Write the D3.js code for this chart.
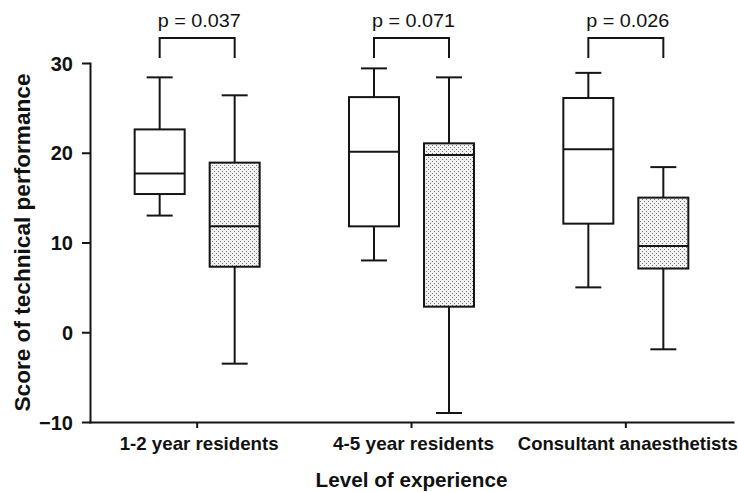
<!DOCTYPE html>
<html>
<head>
<meta charset="utf-8">
<title>Score of technical performance</title>
<script src="https://d3js.org/d3.v7.min.js"></script>
<style>
  body { margin: 0; background: #fff; }
  svg { display: block; font-family: "Liberation Sans", Arial, sans-serif; }
</style>
</head>
<body>
<svg id="box-chart" width="738" height="492"></svg>
<script>

  // categories along the x-axis
  let categories = ["1-2 year residents", "4-5 year residents", "Consultant anaesthetists"];
  // two series per category: open box and dotted box
  let series = ["open", "dotted"];

  // open boxes
  let openMin    = [13.0, 8.0, 5.0];
  let openQ1     = [15.4, 11.8, 12.1];
  let openMedian = [17.7, 20.1, 20.4];
  let openQ3     = [22.6, 26.2, 26.1];
  let openMax    = [28.4, 29.4, 28.9];

  // dotted boxes
  let dottedMin    = [-3.5, -9.0, -1.9];
  let dottedQ1     = [7.3, 2.85, 7.1];
  let dottedMedian = [11.8, 19.75, 9.6];
  let dottedQ3     = [18.9, 21.05, 15.0];
  let dottedMax    = [26.4, 28.4, 18.4];

  let pValues = ["p = 0.037", "p = 0.071", "p = 0.026"];
  let yTicks = [-10, 0, 10, 20, 30];

  // build rows for d3
  let rows = [];
  categories.forEach(function(cat, i) {
    rows.push({cat: cat, series: "open", min: openMin[i], q1: openQ1[i], median: openMedian[i], q3: openQ3[i], max: openMax[i]});
    rows.push({cat: cat, series: "dotted", min: dottedMin[i], q1: dottedQ1[i], median: dottedMedian[i], q3: dottedQ3[i], max: dottedMax[i]});
  });

  let svg = d3.select("#box-chart");
  let ink = "#151515";

  let margin = {top: 63, right: 5, bottom: 70, left: 90};
  let plotWidth = 738 - margin.left - margin.right;
  let plotHeight = 492 - margin.top - margin.bottom;

  // dotted fill
  let defs = svg.append("defs");
  let pat = defs.append("pattern")
    .attr("id", "dots")
    .attr("patternUnits", "userSpaceOnUse")
    .attr("width", 4).attr("height", 4);
  pat.append("rect").attr("width", 4).attr("height", 4).attr("fill", "#f1f1f1");
  pat.append("rect").attr("x", 0).attr("y", 0).attr("width", 1).attr("height", 1).attr("fill", "#7a7a7a");
  pat.append("rect").attr("x", 2).attr("y", 2).attr("width", 1).attr("height", 1).attr("fill", "#7a7a7a");

  let xScale = d3.scaleBand()
    .domain(categories)
    .range([0, plotWidth]);

  let subScale = d3.scaleBand()
    .domain(series)
    .range([-75, 75]);

  let yScale = d3.scaleLinear()
    .domain([-10, 30])
    .range([plotHeight, 0]);

  let boxWidth = subScale.bandwidth() * 2 / 3;
  let capWidth = 26;

  let plot = svg.append("g").attr("transform", translate(margin.left, margin.top));

  function center(d) {
    return xScale(d.cat) + xScale.bandwidth() / 2 + subScale(d.series) + subScale.bandwidth() / 2;
  }

  // axes
  let xAxis = d3.axisBottom(xScale).tickSizeInner(6).tickSizeOuter(0).tickFormat("");
  let yAxis = d3.axisLeft(yScale).tickValues(yTicks).tickSizeInner(8).tickSizeOuter(0).tickPadding(9);

  let xGroup = plot.append("g").attr("transform", translate(0, plotHeight)).call(xAxis);
  let yGroup = plot.append("g").call(yAxis);

  [xGroup, yGroup].forEach(function(g) {
    g.selectAll("path, line").attr("stroke", ink).attr("stroke-width", 2);
    g.select(".domain").attr("stroke-linecap", "square");
  });

  yGroup.selectAll("text")
    .attr("fill", "#111")
    .attr("dy", "0.36em")
    .style("font-size", "20px")
    .style("font-weight", "bold");

  // category labels
  let labelWidths = [159, 161, 220];
  plot.selectAll(".cat-label")
    .data(categories)
    .enter().append("text")
    .attr("class", "cat-label")
    .attr("x", d => xScale(d) + xScale.bandwidth() / 2 + 2)
    .attr("y", plotHeight + 28)
    .attr("text-anchor", "middle")
    .attr("fill", "#111")
    .style("font-size", "18.5px")
    .style("font-weight", "bold")
    .attr("textLength", (d, i) => labelWidths[i])
    .attr("lengthAdjust", "spacingAndGlyphs")
    .text(d => d);

  // boxes
  let boxes = plot.selectAll(".box")
    .data(rows)
    .enter().append("g")
    .attr("class", "box");

  // whisker stems
  boxes.append("line")
    .attr("x1", center).attr("x2", center)
    .attr("y1", d => yScale(d.max)).attr("y2", d => yScale(d.q3));
  boxes.append("line")
    .attr("x1", center).attr("x2", center)
    .attr("y1", d => yScale(d.q1)).attr("y2", d => yScale(d.min));
  // caps
  boxes.append("line")
    .attr("x1", d => center(d) - capWidth / 2).attr("x2", d => center(d) + capWidth / 2)
    .attr("y1", d => yScale(d.max)).attr("y2", d => yScale(d.max));
  boxes.append("line")
    .attr("x1", d => center(d) - capWidth / 2).attr("x2", d => center(d) + capWidth / 2)
    .attr("y1", d => yScale(d.min)).attr("y2", d => yScale(d.min));
  // box
  boxes.append("rect")
    .attr("x", d => center(d) - boxWidth / 2)
    .attr("width", boxWidth)
    .attr("y", d => yScale(d.q3))
    .attr("height", d => yScale(d.q1) - yScale(d.q3))
    .attr("fill", d => d.series === "dotted" ? "url(#dots)" : "#fff");
  // median
  boxes.append("line")
    .attr("x1", d => center(d) - boxWidth / 2).attr("x2", d => center(d) + boxWidth / 2)
    .attr("y1", d => yScale(d.median)).attr("y2", d => yScale(d.median));

  boxes.selectAll("line, rect")
    .attr("stroke", ink)
    .attr("stroke-width", 2);

  // significance brackets
  let bracketBottom = yScale(30) - 5;
  let bracketTop = bracketBottom - 20;
  categories.forEach(function(cat, i) {
    let xa = center({cat: cat, series: "open"});
    let xb = center({cat: cat, series: "dotted"});
    plot.append("path")
      .attr("d", "M" + xa + "," + bracketBottom + "V" + bracketTop + "H" + xb + "V" + bracketBottom)
      .attr("fill", "none")
      .attr("stroke", ink)
      .attr("stroke-width", 2);
    plot.append("text")
      .attr("x", xa - 2)
      .attr("y", bracketTop - 11)
      .attr("fill", "#111")
      .style("font-size", "18px")
      .attr("textLength", 83)
      .attr("lengthAdjust", "spacingAndGlyphs")
      .text(pValues[i]);
  });

  // axis titles
  svg.append("text")
    .attr("transform", translate(30, margin.top + plotHeight / 2) + " rotate(-90)")
    .attr("text-anchor", "middle")
    .attr("fill", "#111")
    .style("font-size", "22px")
    .style("font-weight", "bold")
    .attr("textLength", 338)
    .attr("lengthAdjust", "spacingAndGlyphs")
    .text("Score of technical performance");

  svg.append("text")
    .attr("x", margin.left + plotWidth / 2)
    .attr("y", 487)
    .attr("text-anchor", "middle")
    .attr("fill", "#111")
    .style("font-size", "20px")
    .style("font-weight", "bold")
    .attr("textLength", 192)
    .attr("lengthAdjust", "spacingAndGlyphs")
    .text("Level of experience");

  // helper method to make translating easier
  function translate(x, y) {
    return "translate(" + x + "," + y + ")";
  }

</script>
</body>
</html>
